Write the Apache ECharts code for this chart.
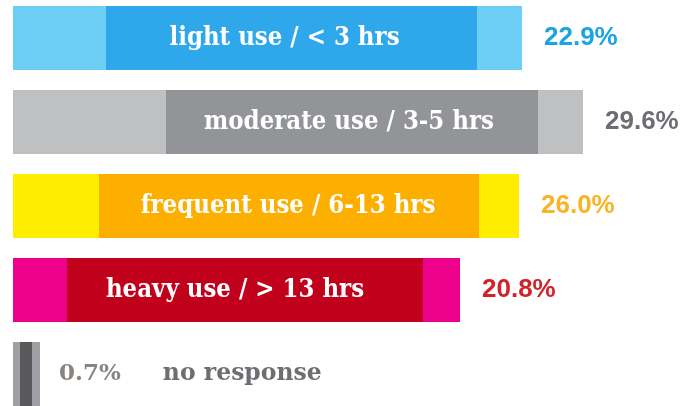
<!DOCTYPE html>
<html><head><meta charset="utf-8">
<script src="https://cdn.jsdelivr.net/npm/echarts@6/dist/echarts.min.js"></script>
<style>html,body{margin:0;padding:0;background:#fff}#c{width:699px;height:406px}</style>
</head><body><div id="c"></div>
<script>
// Data
const categories = ['light use / < 3 hrs', 'moderate use / 3-5 hrs', 'frequent use / 6-13 hrs', 'heavy use / > 13 hrs', 'no response'];
const percents = [22.9, 29.6, 26.0, 20.8, 0.7];
// Bar segment lengths (graphic units, as drawn in the original infographic)
const leftPad  = [93, 153, 86, 54, 7];
const coreLen  = [371, 372, 380, 356, 12];
const rightPad = [45, 45, 40, 37, 8];

const outerColors = ['#6dcff6', '#bfc0c2', '#ffed00', '#ec008c', '#a0a0a4'];
const innerColors = ['#2ea8ea', '#929497', '#fdaf00', '#c1001b', '#59595c'];
const pctColors   = ['#1aa5e0', '#6d6e71', '#f9b424', '#d2232a', '#8b8380'];
const innerOffset = [-7, -3, -1, -10, 0];

const chart = echarts.init(document.getElementById('c'), null, {renderer: 'canvas'});
const option = {
  animation: false,
  grid: {left: 13, right: 0, top: 38, bottom: 32},
  xAxis: {type: 'value', min: 0, max: 686, show: false},
  yAxis: {type: 'category', data: categories, inverse: true, show: false, boundaryGap: false},
  series: [
    {
      type: 'bar', stack: 's', barWidth: 64, silent: true,
      data: leftPad.map((v, i) => ({value: v, itemStyle: {color: outerColors[i]}}))
    },
    {
      type: 'bar', stack: 's', barWidth: 64, silent: true,
      data: coreLen.map((v, i) => ({
        value: v, itemStyle: {color: innerColors[i]},
        label: {
          show: i < 4, position: 'inside', offset: [innerOffset[i], 0],
          formatter: categories[i], color: '#fff',
          fontFamily: 'DejaVu Serif Condensed', fontWeight: 'bold', fontSize: 25.5
        }
      }))
    },
    {
      type: 'bar', stack: 's', barWidth: 64, silent: true,
      data: rightPad.map((v, i) => ({
        value: v, itemStyle: {color: outerColors[i]},
        label: i < 4 ? {
          show: true, position: 'right', distance: 22,
          formatter: percents[i].toFixed(1) + '%', color: pctColors[i],
          fontFamily: 'Liberation Sans', fontWeight: 'bold', fontSize: 26
        } : {
          show: true, position: 'right', distance: 19,
          formatter: '{p|' + percents[i].toFixed(1) + '%}{n|' + categories[i] + '}',
          rich: {
            p: {color: pctColors[i], fontFamily: 'DejaVu Serif', fontWeight: 'bold', fontSize: 23, padding: [0, 42, 0, 0]},
            n: {color: '#6d6e71', fontFamily: 'DejaVu Serif', fontWeight: 'bold', fontSize: 23.5}
          }
        }
      }))
    }
  ]
};
chart.setOption(option);
</script></body></html>
